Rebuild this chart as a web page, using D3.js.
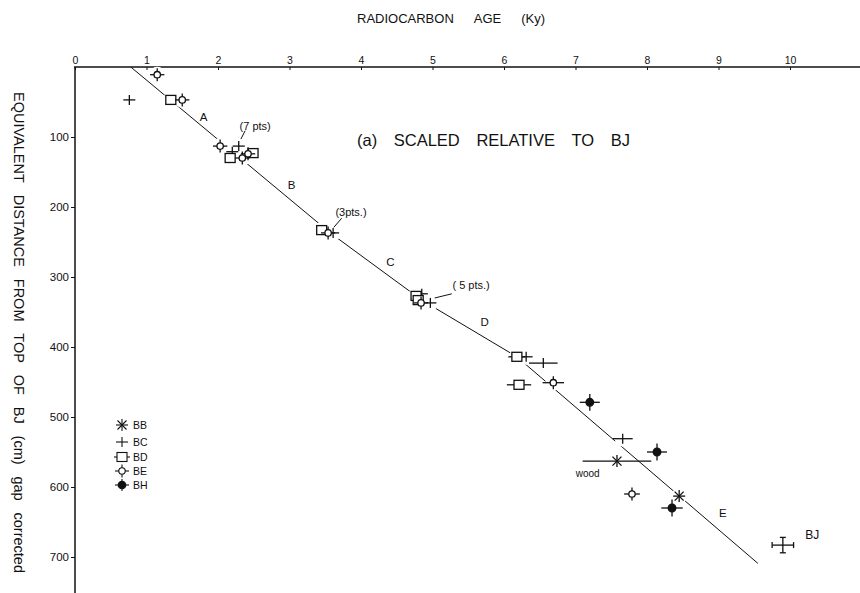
<!DOCTYPE html>
<html><head><meta charset="utf-8">
<script src="https://cdn.jsdelivr.net/npm/d3@7/dist/d3.min.js"></script>
<style>
html,body{margin:0;padding:0;background:#fff;}
svg{display:block;font-family:"Liberation Sans",Arial,sans-serif;}
</style></head>
<body>
<svg id="c" width="860" height="593"></svg>
<script>
// ---- data ----
const xTicks = [0,1,2,3,4,5,6,7,8,9,10];
const yTicks = [100,200,300,400,500,600,700];

const bbAge   = [7.58, 8.45];
const bbDepth = [563, 613];
const bbXerr  = [0.48, 0.08];

const bcAge   = [0.76, 2.29, 2.20, 3.61, 4.85, 4.97, 6.31, 6.55, 7.66];
const bcDepth = [47, 113, 121, 237, 324, 337, 414, 423, 531];
const bcXerr  = [0.08, 0.08, 0.08, 0.08, 0.08, 0.08, 0.09, 0.20, 0.14];

const bdAge   = [1.34, 2.17, 2.49, 3.45, 4.77, 4.80, 6.18, 6.21];
const bdDepth = [47, 130, 123, 233, 327, 333, 414, 454];
const bdXerr  = [0, 0, 0, 0, 0, 0, 0.12, 0.17];

const beAge   = [1.15, 1.50, 2.03, 2.34, 2.42, 3.54, 4.84, 6.69, 7.79];
const beDepth = [11, 47, 113, 130, 124, 237, 337, 451, 610];
const beXerr  = [0.1, 0.1, 0.1, 0.1, 0.1, 0.1, 0.1, 0.15, 0.11];

const bhAge   = [7.20, 8.14, 8.35];
const bhDepth = [479, 550, 630];
const bhXerr  = [0.14, 0.14, 0.15];
const bhYerr  = [12, 12, 12];

const bjAge = [9.90], bjDepth = [683], bjXerr = [0.15], bjYerr = [11];

const lineAge   = [0.78, 3.57, 4.85, 6.18, 9.55];
const lineDepth = [0, 237, 333, 414, 709];

const segNames = ["A","B","C","D","E"];
const segAge   = [1.80, 3.03, 4.41, 5.73, 9.06];
const segDepth = [71, 169, 279, 364, 637];

const noteText  = ["(7 pts)", "(3pts.)", "( 5 pts.)"];
const noteAge   = [2.52, 3.86, 5.54];
const noteDepth = [84, 207, 311];
const ptrAge0 = [2.38, 3.73, 5.27], ptrDepth0 = [91, 216, 324];
const ptrAge1 = [2.32, 3.62, 5.03], ptrDepth1 = [103, 229, 330];

const legendNames = ["BB","BC","BD","BE","BH"];

const titleWords = ["RADIOCARBON","AGE","(Ky)"];
const subtitleWords = ["(a)","SCALED","RELATIVE","TO","BJ"];
const yLabelWords = ["EQUIVALENT","DISTANCE","FROM","TOP","OF","BJ","(cm)","gap","corrected"];

// ---- drawing ----
const svg = d3.select("#c");
const ink = "#111";
const x = d3.scaleLinear().domain([0,10]).range([75,790]);
const y = d3.scaleLinear().domain([0,700]).range([67,557]);

// axes
svg.append("line").attr("x1",x(0)-1).attr("x2",860).attr("y1",y(0)).attr("y2",y(0)).attr("stroke",ink).attr("stroke-width",1.5);
svg.append("line").attr("x1",x(0)).attr("x2",x(0)).attr("y1",y(0)).attr("y2",593).attr("stroke",ink).attr("stroke-width",1.5);

const gx = svg.append("g").attr("transform",`translate(0,${y(0)})`)
  .call(d3.axisTop(x).tickValues(xTicks).tickSizeInner(-3).tickSizeOuter(0).tickPadding(3).tickFormat(d3.format("d")));
gx.select(".domain").remove();
gx.selectAll("line").attr("stroke",ink);
gx.selectAll("text").attr("font-size",10.5).attr("fill",ink);

const gy = svg.append("g").attr("transform",`translate(${x(0)},0)`)
  .call(d3.axisLeft(y).tickValues(yTicks).tickSizeInner(4).tickSizeOuter(0).tickPadding(2).tickFormat(d3.format("d")));
gy.select(".domain").remove();
gy.selectAll("line").attr("stroke",ink);
gy.selectAll("text").attr("font-size",11.5).attr("fill",ink);

// words placed with gaps between them
function placeWords(g, words, start, end, size){
  const nodes = words.map(w=>g.append("text").attr("font-size",size).attr("fill",ink).text(w));
  const widths = nodes.map(n=>n.node().getComputedTextLength());
  const tot = widths.reduce((a,b)=>a+b,0);
  const gap = (end-start-tot)/(words.length-1);
  let p = start;
  nodes.forEach((n,i)=>{ n.attr("x",p); p += widths[i]+gap; });
}
placeWords(svg.append("g").attr("transform","translate(0,23)"), titleWords, 357, 545, 13);
placeWords(svg.append("g").attr("transform","translate(0,146)"), subtitleWords, 357, 630, 16.5);
placeWords(svg.append("g").attr("transform","translate(14,0) rotate(90)"), yLabelWords, 92, 573, 14.5);

// fit line
const pts = lineAge.map((a,i)=>[a,lineDepth[i]]);
svg.append("path").attr("d",d3.line().x(d=>x(d[0])).y(d=>y(d[1]))(pts))
  .attr("fill","none").attr("stroke",ink).attr("stroke-width",1);

// halos (gaps in line around markers)
const allPts = [];
[[bbAge,bbDepth],[bcAge,bcDepth],[bdAge,bdDepth],[beAge,beDepth],[bhAge,bhDepth],[bjAge,bjDepth]]
  .forEach(([A,D])=>A.forEach((a,i)=>allPts.push([a,D[i]])));
svg.append("g").selectAll("circle").data(allPts).join("circle")
  .attr("cx",d=>x(d[0])).attr("cy",d=>y(d[1])).attr("r",8).attr("fill","#fff");

const mk = svg.append("g").attr("stroke",ink).attr("stroke-width",1.3).attr("fill","none");
function seg(g,x1,y1,x2,y2){g.append("line").attr("x1",x1).attr("y1",y1).attr("x2",x2).attr("y2",y2);}
const pxPerKy = x(1)-x(0), pxPerCm = y(1)-y(0);

function drawBB(g,cx,cy,hx){
  seg(g,cx-Math.max(6,hx),cy,cx+Math.max(6,hx),cy);
  seg(g,cx,cy-6,cx,cy+6);
  seg(g,cx-4.5,cy-4.5,cx+4.5,cy+4.5);
  seg(g,cx-4.5,cy+4.5,cx+4.5,cy-4.5);
}
function drawBC(g,cx,cy,hx){
  seg(g,cx-Math.max(6,hx),cy,cx+Math.max(6,hx),cy);
  seg(g,cx,cy-5,cx,cy+5);
}
function drawBD(g,cx,cy,hx){
  if(hx>0) seg(g,cx-hx,cy,cx+hx,cy);
  g.append("rect").attr("x",cx-5).attr("y",cy-4.5).attr("width",10).attr("height",9).attr("fill","#fff");
}
function drawBE(g,cx,cy,hx){
  const h = Math.max(7,hx);
  seg(g,cx-h,cy,cx+h,cy);
  seg(g,cx,cy-6.5,cx,cy+6.5);
  g.append("circle").attr("cx",cx).attr("cy",cy).attr("r",3.2).attr("fill","#fff");
}
function drawBH(g,cx,cy,hx,hy){
  seg(g,cx-hx,cy,cx+hx,cy);
  seg(g,cx,cy-hy,cx,cy+hy);
  g.append("circle").attr("cx",cx).attr("cy",cy).attr("r",3.8).attr("fill",ink);
}
function drawBJ(g,cx,cy,hx,hy){
  seg(g,cx-hx,cy,cx+hx,cy);
  seg(g,cx,cy-hy,cx,cy+hy);
  seg(g,cx-hx,cy-3,cx-hx,cy+3);
  seg(g,cx+hx,cy-3,cx+hx,cy+3);
  seg(g,cx-3,cy-hy,cx+3,cy-hy);
  seg(g,cx-3,cy+hy,cx+3,cy+hy);
}

bbAge.forEach((a,i)=>drawBB(mk,x(a),y(bbDepth[i]),bbXerr[i]*pxPerKy));
bcAge.forEach((a,i)=>drawBC(mk,x(a),y(bcDepth[i]),bcXerr[i]*pxPerKy));
bdAge.forEach((a,i)=>drawBD(mk,x(a),y(bdDepth[i]),bdXerr[i]*pxPerKy));
beAge.forEach((a,i)=>drawBE(mk,x(a),y(beDepth[i]),beXerr[i]*pxPerKy));
bhAge.forEach((a,i)=>drawBH(mk,x(a),y(bhDepth[i]),bhXerr[i]*pxPerKy,bhYerr[i]*pxPerCm));
bjAge.forEach((a,i)=>drawBJ(mk,x(a),y(bjDepth[i]),bjXerr[i]*pxPerKy,bjYerr[i]*pxPerCm));

// segment labels
svg.append("g").selectAll("text").data(segNames).join("text")
  .attr("x",(d,i)=>x(segAge[i])).attr("y",(d,i)=>y(segDepth[i]))
  .attr("text-anchor","middle").attr("dominant-baseline","central")
  .attr("font-size",11.5).attr("fill",ink).text(d=>d);

// notes with pointers
svg.append("g").selectAll("text").data(noteText).join("text")
  .attr("x",(d,i)=>x(noteAge[i])).attr("y",(d,i)=>y(noteDepth[i]))
  .attr("text-anchor","middle").attr("dominant-baseline","central")
  .attr("font-size",11).attr("fill",ink).text(d=>d);
svg.append("g").selectAll("line").data(noteText).join("line")
  .attr("x1",(d,i)=>x(ptrAge0[i])).attr("y1",(d,i)=>y(ptrDepth0[i]))
  .attr("x2",(d,i)=>x(ptrAge1[i])).attr("y2",(d,i)=>y(ptrDepth1[i]))
  .attr("stroke",ink).attr("stroke-width",1);

svg.append("text").attr("x",x(7.17)).attr("y",y(580)).attr("text-anchor","middle").attr("dominant-baseline","central")
  .attr("font-size",10).attr("fill",ink).text("wood");
svg.append("text").attr("x",x(10.31)).attr("y",y(669)).attr("text-anchor","middle").attr("dominant-baseline","central")
  .attr("font-size",12).attr("fill",ink).text("BJ");

// legend
const lg = svg.append("g").attr("stroke",ink).attr("stroke-width",1.1).attr("fill","none");
const lgY = [425,442,457,471,485];
drawBB(lg,122,lgY[0],0);
drawBC(lg,122,lgY[1],0);
drawBD(lg,122,lgY[2],8);
drawBE(lg,122,lgY[3],7);
drawBH(lg,122,lgY[4],7,6);
svg.append("g").selectAll("text").data(legendNames).join("text")
  .attr("x",133).attr("y",(d,i)=>lgY[i]).attr("dominant-baseline","central")
  .attr("font-size",10.5).attr("fill",ink).text(d=>d);
</script>
</body></html>
